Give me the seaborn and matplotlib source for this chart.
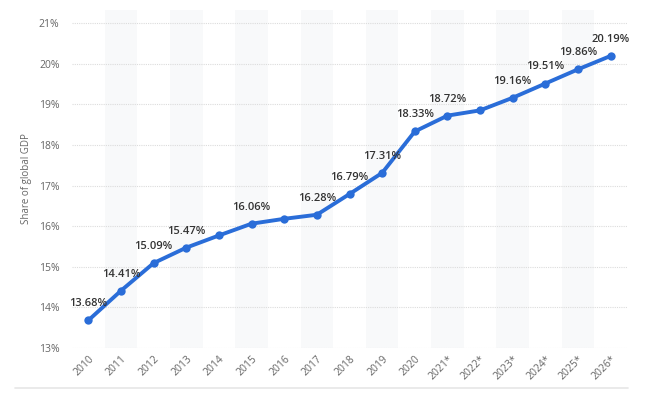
import matplotlib
matplotlib.use("Agg")
import matplotlib.pyplot as plt
import seaborn as sns
import pandas as pd

years = ["2010", "2011", "2012", "2013", "2014", "2015", "2016", "2017", "2018",
         "2019", "2020", "2021*", "2022*", "2023*", "2024*", "2025*", "2026*"]
shares = [13.68, 14.41, 15.09, 15.47, 15.77, 16.06, 16.18, 16.28, 16.79,
          17.31, 18.33, 18.72, 18.85, 19.16, 19.51, 19.86, 20.19]
labeled = [True, True, True, True, False, True, False, True, True,
           True, True, True, False, True, True, True, True]
yticks = [13, 14, 15, 16, 17, 18, 19, 20, 21]

df = pd.DataFrame({"year": years, "share": shares})

sns.set_theme(style="white")
plt.rcParams['font.family'] = ['Open Sans', 'DejaVu Sans']

fig = plt.figure(figsize=(6.48, 3.93), dpi=100)
ax = fig.add_axes([72/648, 1-348/393, (627-72)/648, (348-10)/393])

# alternating bands
for i in range(len(years)):
    if i % 2 == 1:
        ax.axvspan(i-0.5, i+0.5, color="#f8f9fa", zorder=0, lw=0)

for t in yticks:
    ax.axhline(t, color="#dcdcdc", lw=0.8, ls=(0, (1, 1)), zorder=1)

sns.lineplot(data=df, x="year", y="share", ax=ax, color="#2a6dd8", lw=2.8,
             marker="o", markersize=6, markeredgewidth=0, sort=False, zorder=3)

for i, (v, lab) in enumerate(zip(shares, labeled)):
    if lab:
        ax.annotate(f"{v:.2f}%", (i, v), xytext=(0, 8), textcoords="offset points",
                    ha="center", va="bottom", fontsize=8, color="#333333",
                    fontweight="semibold", zorder=4)

ax.set_xlim(-0.5, len(years)-0.5)
ax.set_ylim(13, 21 + 13/40.6)
ax.set_yticks(yticks)
ax.set_yticklabels([f"{t}%" for t in yticks], fontsize=7.5, color="#666666")
ax.set_xticks(range(len(years)))
ax.set_xticklabels(years, rotation=45, ha="right", rotation_mode="anchor",
                   fontsize=7.5, color="#666666")
ax.tick_params(axis="x", pad=4, length=0)
ax.tick_params(axis="y", pad=9, length=0)
ax.set_xlabel("")
ax.set_ylabel("Share of global GDP", fontsize=7, color="#666666", labelpad=5)
for s in ax.spines.values():
    s.set_visible(False)

fig.add_artist(plt.Line2D([15/648, 628/648], [1-388/393, 1-388/393],
                          color="#e6e6e6", lw=1.2, transform=fig.transFigure))

fig.savefig("out.png", dpi=100)
